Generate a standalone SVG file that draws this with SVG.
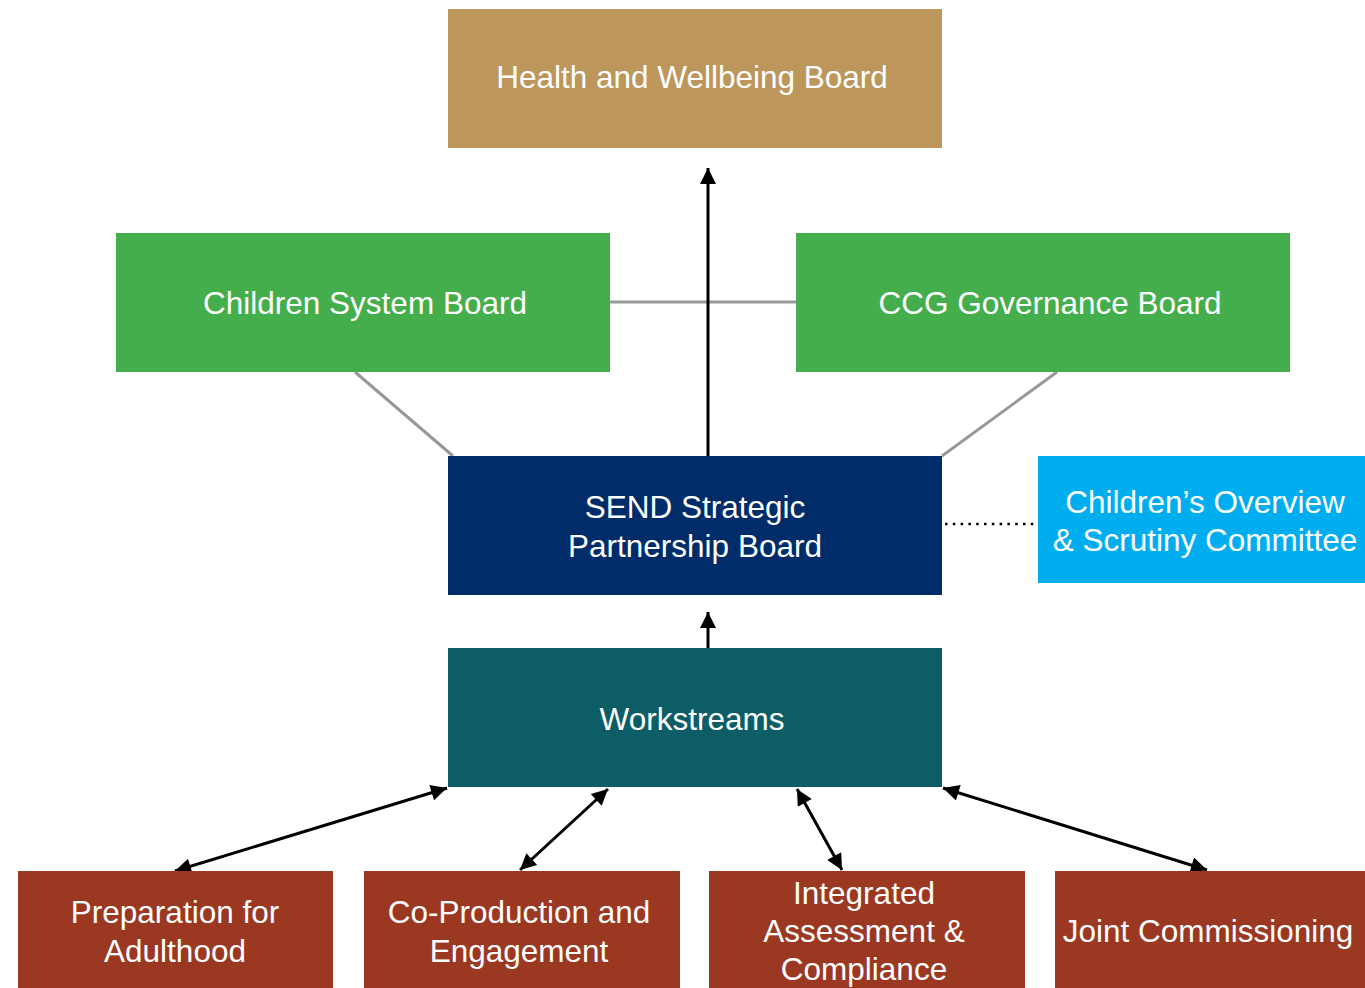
<svg xmlns="http://www.w3.org/2000/svg" width="1365" height="988" viewBox="0 0 1365 988">
<style>
text{font-family:"Liberation Sans",Arial,sans-serif;font-size:31.5px;fill:#fff;text-anchor:middle}
.grey{stroke:#999;stroke-width:3;fill:none}
.blk{stroke:#000;stroke-width:3;fill:none}
</style>
<defs>
<marker id="a" viewBox="0 0 10 10" refX="10" refY="5" markerWidth="20" markerHeight="16" orient="auto-start-reverse" markerUnits="userSpaceOnUse">
<path d="M0,0 L10,5 L0,10 z" fill="#000"/>
</marker>
</defs>
<rect width="1365" height="988" fill="#fff"/>
<g id="connectors">
<line class="grey" x1="610" y1="302" x2="796" y2="302"/>
<line class="grey" x1="355" y1="372" x2="453" y2="456"/>
<line class="grey" x1="1057" y1="372" x2="942" y2="456"/>
<line class="blk" x1="708" y1="456" x2="708" y2="168" marker-end="url(#a)"/>
<line class="blk" x1="708" y1="648" x2="708" y2="612" marker-end="url(#a)"/>
<line x1="945" y1="524" x2="1038" y2="524" stroke="#000" stroke-width="2.5" stroke-dasharray="2.5 5.3"/>
<line class="blk" x1="175" y1="871" x2="447" y2="788" marker-start="url(#a)" marker-end="url(#a)"/>
<line class="blk" x1="520" y1="870" x2="608" y2="789" marker-start="url(#a)" marker-end="url(#a)"/>
<line class="blk" x1="842" y1="870" x2="797" y2="789" marker-start="url(#a)" marker-end="url(#a)"/>
<line class="blk" x1="1207" y1="870" x2="943" y2="788" marker-start="url(#a)" marker-end="url(#a)"/>
</g>
<g id="hwb"><rect x="448" y="9" width="494" height="139" fill="#BD965B"/><text x="692" y="88">Health and Wellbeing Board</text></g>
<g id="csb"><rect x="116" y="233" width="494" height="139" fill="#43AE4B"/><text x="365" y="314">Children System Board</text></g>
<g id="ccg"><rect x="796" y="233" width="494" height="139" fill="#43AE4B"/><text x="1050" y="314">CCG Governance Board</text></g>
<g id="send"><rect x="448" y="456" width="494" height="139" fill="#002D69"/><text x="695" y="518">SEND Strategic</text><text x="695" y="557">Partnership Board</text></g>
<g id="cosc"><rect x="1038" y="456" width="327" height="127" fill="#00AEEF"/><text x="1205" y="513">Children’s Overview</text><text x="1205" y="551">&amp; Scrutiny Committee</text></g>
<g id="ws"><rect x="448" y="648" width="494" height="139" fill="#0C5D65"/><text x="692" y="730">Workstreams</text></g>
<g id="pfa"><rect x="18" y="871" width="315" height="117" fill="#9B3822"/><text x="175" y="923">Preparation for</text><text x="175" y="962">Adulthood</text></g>
<g id="cpe"><rect x="364" y="871" width="316" height="117" fill="#9B3822"/><text x="519" y="923">Co-Production and</text><text x="519" y="962">Engagement</text></g>
<g id="iac"><rect x="709" y="871" width="316" height="117" fill="#9B3822"/><text x="864" y="904">Integrated</text><text x="864" y="942">Assessment &amp;</text><text x="864" y="980">Compliance</text></g>
<g id="jc"><rect x="1055" y="871" width="310" height="117" fill="#9B3822"/><text x="1208" y="942">Joint Commissioning</text></g>
</svg>
